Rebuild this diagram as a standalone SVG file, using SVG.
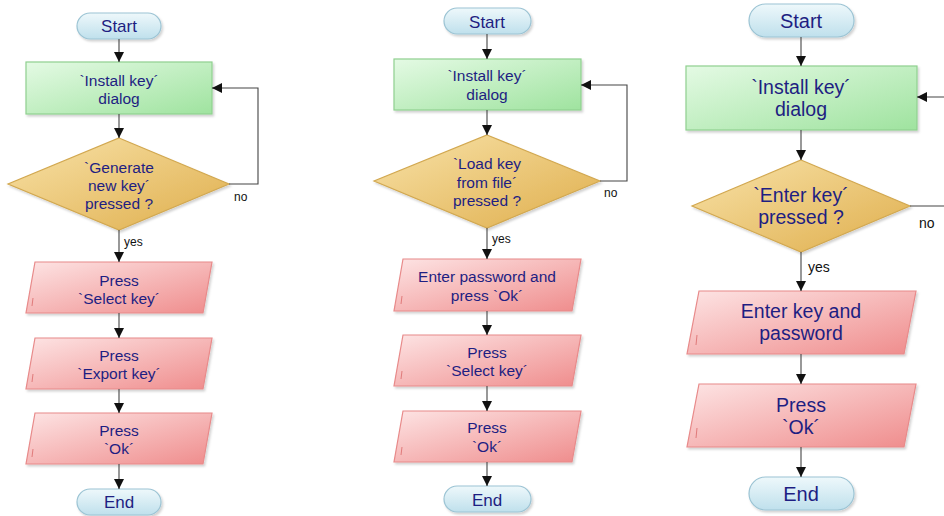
<svg xmlns="http://www.w3.org/2000/svg" width="944" height="516" viewBox="0 0 944 516">
<defs>
<linearGradient id="gTerm" x1="0" y1="0" x2="0" y2="1"><stop offset="0" stop-color="#eef8fb"/><stop offset="1" stop-color="#bfe0ec"/></linearGradient>
<linearGradient id="gRect" x1="0" y1="0" x2="1" y2="1"><stop offset="0" stop-color="#e4fae4"/><stop offset="1" stop-color="#9fe39f"/></linearGradient>
<linearGradient id="gDia" x1="0" y1="0" x2="1" y2="1"><stop offset="0" stop-color="#f8e2a8"/><stop offset="1" stop-color="#dfae4c"/></linearGradient>
<linearGradient id="gPara" x1="0" y1="0" x2="1" y2="1"><stop offset="0" stop-color="#fde4e4"/><stop offset="1" stop-color="#ef8c8c"/></linearGradient>
<filter id="sh" x="-10%" y="-10%" width="130%" height="140%"><feDropShadow dx="1.5" dy="2" stdDeviation="1.2" flood-color="#000" flood-opacity="0.18"/></filter>
<marker id="ah" viewBox="0 0 10 10" refX="10" refY="5" markerWidth="10" markerHeight="10" markerUnits="userSpaceOnUse" orient="auto"><path d="M0,0 L10,5 L0,10 z" fill="#111"/></marker>
</defs>
<style>
.term{fill:url(#gTerm);stroke:#9cc4d4;stroke-width:1.2;filter:url(#sh)}
.rect{fill:url(#gRect);stroke:#8fd08f;stroke-width:1.2;filter:url(#sh)}
.dia{fill:url(#gDia);stroke:#d2a850;stroke-width:1.2;filter:url(#sh)}
.para{fill:url(#gPara);stroke:#e88a8a;stroke-width:1.2;filter:url(#sh)}
.mark{stroke:#e07a7a;stroke-width:1}
.t{font-family:"Liberation Sans",Arial,sans-serif;fill:#1e1e82;text-anchor:middle}
.s{font-size:15.5px}
.st{font-size:17px}
.b{font-size:19.5px}
.bt{font-size:20px}
.lab{font-family:"Liberation Sans",Arial,sans-serif;fill:#111;font-size:12px}
.labb{font-family:"Liberation Sans",Arial,sans-serif;fill:#111;font-size:14px}
.ca{fill:none;stroke:#444;stroke-width:1.1;marker-end:url(#ah)}
</style>

<!-- ===== Left flowchart ===== -->
<g id="L_start"><rect class="term" x="77" y="13" width="84" height="26" rx="13"/><text class="t st" x="119" y="32">Start</text></g>
<g id="L_install"><rect class="rect" x="26" y="62" width="186" height="52"/><text class="t s" x="119" y="85.5">`Install key´</text><text class="t s" x="119" y="103.5">dialog</text></g>
<g id="L_decision"><polygon class="dia" points="119,138 229,184 119,230 8,184"/><text class="t s" x="119" y="172.5">`Generate</text><text class="t s" x="119" y="190.5">new key´</text><text class="t s" x="119" y="208.5">pressed ?</text></g>
<g id="L_p1"><polygon class="para" points="35,262 212,262 203,313 26,313"/><line class="mark" x1="33" y1="298" x2="32" y2="306"/><text class="t s" x="119" y="286">Press</text><text class="t s" x="119" y="304">`Select key´</text></g>
<g id="L_p2"><polygon class="para" points="35,338 212,338 203,389 26,389"/><line class="mark" x1="33" y1="374" x2="32" y2="382"/><text class="t s" x="119" y="361">Press</text><text class="t s" x="119" y="379">`Export key´</text></g>
<g id="L_p3"><polygon class="para" points="35,413 212,413 203,464 26,464"/><line class="mark" x1="33" y1="449" x2="32" y2="457"/><text class="t s" x="119" y="436">Press</text><text class="t s" x="119" y="454">`Ok´</text></g>
<g id="L_end"><rect class="term" x="77" y="489" width="84" height="26" rx="13"/><text class="t st" x="119" y="508">End</text></g>

<!-- ===== Middle flowchart ===== -->
<g id="M_start"><rect class="term" x="444" y="8" width="87" height="26" rx="13"/><text class="t st" x="487" y="27.5">Start</text></g>
<g id="M_install"><rect class="rect" x="394" y="59" width="187" height="51"/><text class="t s" x="487" y="81">`Install key´</text><text class="t s" x="487" y="100">dialog</text></g>
<g id="M_decision"><polygon class="dia" points="487,135 600,181 487,228 374,181"/><text class="t s" x="487" y="169">`Load key</text><text class="t s" x="487" y="188">from file´</text><text class="t s" x="487" y="206">pressed ?</text></g>
<g id="M_p1"><polygon class="para" points="403,259 581,259 572,311 394,311"/><line class="mark" x1="402" y1="296" x2="401" y2="304"/><text class="t s" x="487" y="282">Enter password and</text><text class="t s" x="487" y="301">press `Ok´</text></g>
<g id="M_p2"><polygon class="para" points="403,335 581,335 572,386 394,386"/><line class="mark" x1="402" y1="371" x2="401" y2="379"/><text class="t s" x="487" y="358">Press</text><text class="t s" x="487" y="376">`Select key´</text></g>
<g id="M_p3"><polygon class="para" points="403,411 581,411 572,462 394,462"/><line class="mark" x1="402" y1="447" x2="401" y2="455"/><text class="t s" x="487" y="433">Press</text><text class="t s" x="487" y="452">`Ok´</text></g>
<g id="M_end"><rect class="term" x="444" y="486" width="87" height="26" rx="13"/><text class="t st" x="487" y="505.5">End</text></g>

<!-- ===== Right flowchart ===== -->
<g id="R_start"><rect class="term" x="749" y="4" width="105" height="33" rx="16.5"/><text class="t bt" x="801" y="28">Start</text></g>
<g id="R_install"><rect class="rect" x="686" y="66" width="231" height="64"/><text class="t b" x="801" y="94">`Install key´</text><text class="t b" x="801" y="116">dialog</text></g>
<g id="R_decision"><polygon class="dia" points="801,160 910,206 801,252 692,206"/><text class="t b" x="801" y="202">`Enter key´</text><text class="t b" x="801" y="224">pressed ?</text></g>
<g id="R_p1"><polygon class="para" points="699,291 916,291 904,354 687,354"/><line class="mark" x1="697" y1="335" x2="696" y2="345"/><text class="t b" x="801" y="318">Enter key and</text><text class="t b" x="801" y="340">password</text></g>
<g id="R_p2"><polygon class="para" points="699,384 916,384 904,447 687,447"/><line class="mark" x1="697" y1="428" x2="696" y2="438"/><text class="t b" x="801" y="412">Press</text><text class="t b" x="801" y="434">`Ok´</text></g>
<g id="R_end"><rect class="term" x="749" y="477" width="105" height="33" rx="16.5"/><text class="t bt" x="801" y="501">End</text></g>

<!-- ===== Connectors ===== -->
<g id="connectors">
<line class="ca" x1="119" y1="39" x2="119" y2="62"/>
<line class="ca" x1="119" y1="114" x2="119" y2="138"/>
<polyline class="ca" points="229,184 258,184 258,88 212,88"/>
<line class="ca" x1="119" y1="230" x2="119" y2="262"/>
<line class="ca" x1="119" y1="313" x2="119" y2="338"/>
<line class="ca" x1="119" y1="389" x2="119" y2="413"/>
<line class="ca" x1="119" y1="464" x2="119" y2="489"/>

<line class="ca" x1="487" y1="34" x2="487" y2="59"/>
<line class="ca" x1="487" y1="110" x2="487" y2="135"/>
<polyline class="ca" points="600,181 627,181 627,85 581,85"/>
<line class="ca" x1="487" y1="228" x2="487" y2="259"/>
<line class="ca" x1="487" y1="311" x2="487" y2="335"/>
<line class="ca" x1="487" y1="386" x2="487" y2="411"/>
<line class="ca" x1="487" y1="462" x2="487" y2="486"/>

<line class="ca" x1="801" y1="37" x2="801" y2="66"/>
<line class="ca" x1="801" y1="130" x2="801" y2="160"/>
<polyline class="ca" points="910,206 952,206 952,97 917,97"/>
<line class="ca" x1="801" y1="252" x2="801" y2="291"/>
<line class="ca" x1="801" y1="354" x2="801" y2="384"/>
<line class="ca" x1="801" y1="447" x2="801" y2="477"/>

<text class="lab" x="234" y="201">no</text>
<text class="lab" x="124" y="246">yes</text>
<text class="lab" x="604" y="197">no</text>
<text class="lab" x="492" y="243">yes</text>
<text class="labb" x="919" y="228">no</text>
<text class="labb" x="808" y="272">yes</text>
</g>
</svg>
